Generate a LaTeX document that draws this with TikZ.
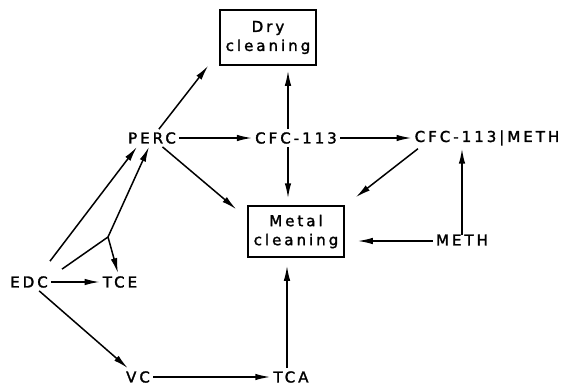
\documentclass[tikz,border=0pt]{standalone}
\usepackage{fontspec}
\setmainfont{DejaVu Sans}[LetterSpace=20,FakeBold=1.8]
\usetikzlibrary{arrows.meta}
\begin{document}
\begin{tikzpicture}[x=1pt,y=-1pt,
  lbl/.style={font=\fontsize{15}{19}\selectfont, inner sep=3pt},
  box/.style={draw, line width=1.5pt, font=\fontsize{15}{19}\selectfont, align=center, minimum width=96pt, inner sep=1pt},
  arr/.style={line width=1.5pt, -{Latex[length=15pt,width=6.5pt]}},
  ln/.style={line width=1.5pt}]
\useasboundingbox (0,0) rectangle (563,386);
\node[box, minimum height=55pt] (dry) at (268,37.5) {Dry\\cleaning};
\node[box, minimum height=51pt] (metal) at (296,231.5) {Metal\\cleaning};
\node[lbl] (perc) at (152,138) {PERC};
\node[lbl] (cfc) at (296,138) {CFC-113};
\node[lbl] (cfcm) at (487,138) {CFC-113\textbar METH};
\node[lbl] (meth) at (462,240) {METH};
\node[lbl] (edc) at (29,282) {EDC};
\node[lbl] (tce) at (120,282) {TCE};
\node[lbl] (vc) at (138,377) {VC};
\node[lbl] (tca) at (291,377) {TCA};
\coordinate (br) at (108,237);
\coordinate (mw) at ([yshift=-1pt]meth.west);
% PERC outputs
\draw[arr] (perc) -- ([xshift=-11pt]dry.south west);
\draw[arr] (perc) -- (cfc);
\draw[arr] (perc) -- ([shift={(-11pt,-4pt)}]metal.north west);
% CFC-113
\draw[arr,shorten >=5pt] ([xshift=-8pt]cfc.north) -- ([xshift=20pt]dry.south);
\draw[arr,shorten >=7pt] ([xshift=-8pt]cfc.south) -- ([xshift=-8pt]metal.north);
\draw[arr] (cfc) -- (cfcm);
\draw[arr] ([xshift=-69pt]cfcm.south) -- ([shift={(11pt,8pt)}]metal.north east);
% METH
\draw[arr] ([yshift=-4pt]meth.north) -- (meth.north |- cfcm.south);
\draw[arr,shorten >=13pt] (mw) -- (metal.east |- mw);
% TCA
\draw[arr,shorten >=8pt] ([xshift=-4pt]tca.north) -- ([xshift=-4pt]tca.north |- metal.south);
\draw[arr] (vc) -- (tca);
% EDC
\draw[arr] (edc) -- (tce);
\draw[arr] (edc) -- (vc);
\draw[arr] ([xshift=21pt,yshift=12pt]edc.north) -- ([xshift=-15pt]perc.south);
\draw[ln] ([xshift=33pt,yshift=4pt]edc.north) -- (br);
\draw[arr] (br) -- ([xshift=-3pt]perc.south);
\draw[arr] (br) -- ([xshift=-2pt]tce.north);
\end{tikzpicture}
\end{document}
